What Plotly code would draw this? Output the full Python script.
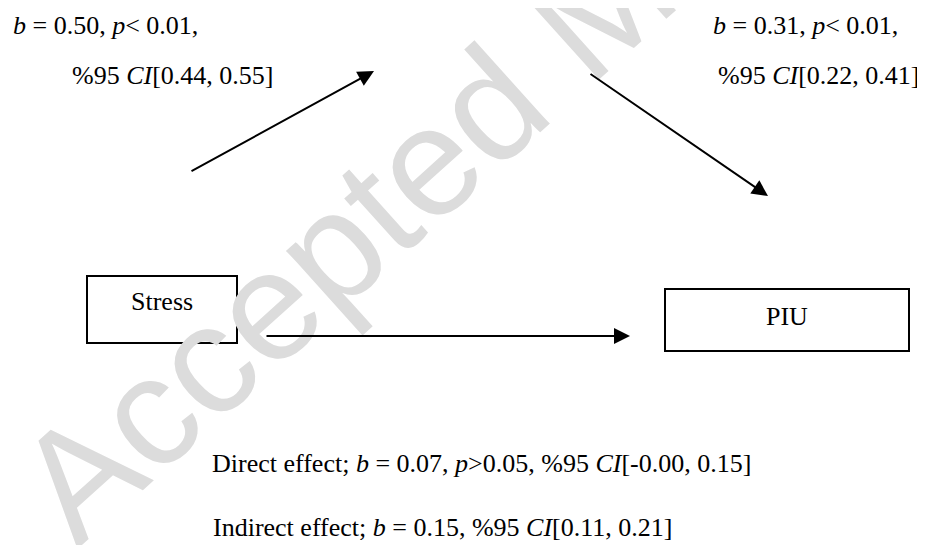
import plotly.graph_objects as go

# ---- data ----
variables = ["Stress", "PIU"]
path_names = ["a", "b", "direct", "indirect"]
b_values = [0.50, 0.31, 0.07, 0.15]
p_texts = ["< 0.01", "< 0.01", ">0.05", None]
ci_low = [0.44, 0.22, -0.00, 0.11]
ci_high = [0.55, 0.41, 0.15, 0.21]
watermark = "Accepted Manuscript"

# page has an 8px body margin; size the figure so that axis units equal window pixels
OFF = 8
W, H = 925, 545
FONT = "Liberation Serif, Times New Roman, serif"
FS = 26

def px_to_paper(x, y):
    return (x - OFF) / (W - OFF), 1 - (y - OFF) / (H - OFF)

fig = go.Figure()
fig.add_trace(go.Scatter(x=[OFF, W], y=[OFF, H], mode="markers",
                         marker=dict(opacity=0), hoverinfo="skip", showlegend=False))

ann = []
# watermark
wx, wy = px_to_paper(579, 26)
ann.append(dict(x=wx, y=wy, xref="paper", yref="paper", text=watermark, showarrow=False,
                textangle=-42, font=dict(family="Liberation Sans, Arial", size=155, color="#dcdcdc"),
                xanchor="center", yanchor="middle"))

shapes = []
# boxes
box_pos = {"Stress": (87, 276, 237, 343), "PIU": (665, 289, 909, 351)}
label_dy = {"Stress": -8, "PIU": -4}
for v in variables:
    x0, y0, x1, y1 = box_pos[v]
    shapes.append(dict(type="rect", xref="x", yref="y", x0=x0, y0=y0, x1=x1, y1=y1,
                       line=dict(color="black", width=2), fillcolor="rgba(0,0,0,0)"))
    ann.append(dict(x=(x0 + x1) / 2, y=(y0 + y1) / 2 + label_dy[v],
                    xref="x", yref="y", text=v, showarrow=False,
                    font=dict(family=FONT, size=FS, color="black"), xanchor="center", yanchor="middle"))

# arrows (tail -> head)
arrows = [((190, 172), (374, 71)), ((589, 73), (768, 196)), ((265, 336), (630, 336))]
for (tx, ty), (hx, hy) in arrows:
    ann.append(dict(x=hx, y=hy, ax=tx, ay=ty, xref="x", yref="y", axref="x", ayref="y",
                    text="", showarrow=True, arrowhead=2, arrowsize=1.6, arrowwidth=2,
                    arrowcolor="black", standoff=0, startstandoff=0))

def fmt(v):
    return f"{v:.2f}"

def line1(i):
    return f"<i>b</i> = {fmt(b_values[i])}, <i>p</i>{p_texts[i]},"

def line2(i):
    return f"%95 <i>CI</i>[{fmt(ci_low[i])}, {fmt(ci_high[i])}]"

texts = [
    (11, 25, line1(0)),
    (70, 75, line2(0)),
    (711, 25, line1(1)),
    (716, 75, line2(1)),
    (210, 463, f"Direct effect; <i>b</i> = {fmt(b_values[2])}, <i>p</i>{p_texts[2]}, {line2(2)}"),
    (211, 527, f"Indirect effect; <i>b</i> = {fmt(b_values[3])}, {line2(3)}"),
]
for x, y, t in texts:
    ann.append(dict(x=x, y=y, xref="x", yref="y", text=t, showarrow=False,
                    font=dict(family=FONT, size=FS, color="black"), xanchor="left", yanchor="middle"))

fig.update_layout(
    width=W - OFF, height=H - OFF, autosize=False,
    margin=dict(l=0, r=0, t=0, b=0),
    paper_bgcolor="white", plot_bgcolor="white",
    xaxis=dict(range=[OFF, W], visible=False, fixedrange=True),
    yaxis=dict(range=[H, OFF], visible=False, fixedrange=True),
    shapes=shapes, annotations=ann, showlegend=False,
)
fig.write_html("out.html")
